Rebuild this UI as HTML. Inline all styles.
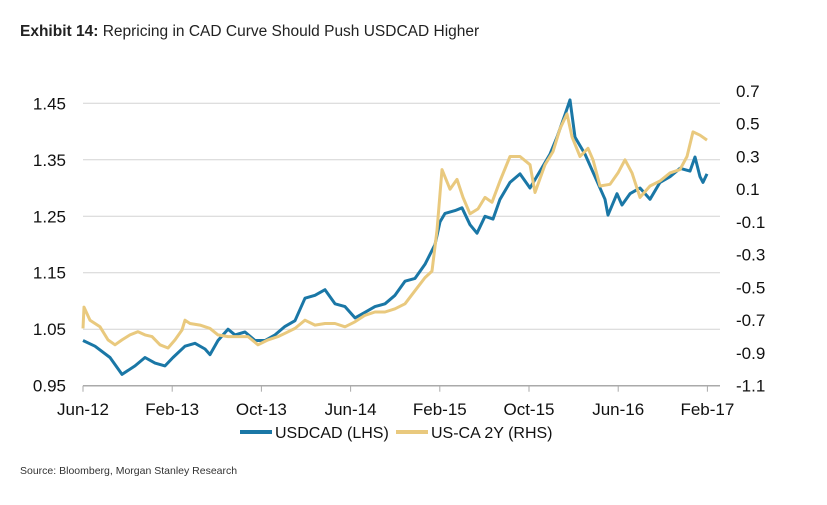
<!DOCTYPE html>
<html><head><meta charset="utf-8"><style>
body{margin:0;background:#fff;width:827px;height:500px;overflow:hidden;font-family:"Liberation Sans",Arial,sans-serif}
</style></head><body>
<svg id="chart" width="827" height="500" xmlns="http://www.w3.org/2000/svg" font-family="Liberation Sans, Arial, sans-serif">
<text x="20" y="36" font-size="15.5" fill="#222"><tspan font-weight="bold">Exhibit 14:</tspan>  Repricing in CAD Curve Should Push USDCAD Higher</text>
<g id="grid"></g><g id="axes"></g><g id="series"></g>
<g>
<line x1="240" y1="432" x2="272" y2="432" stroke="#1a77a6" stroke-width="4"/>
<text x="275" y="438" font-size="16" fill="#111">USDCAD (LHS)</text>
<line x1="396" y1="432" x2="428" y2="432" stroke="#e9c97e" stroke-width="4"/>
<text x="431" y="438" font-size="16" fill="#111">US-CA 2Y (RHS)</text>
</g>
<text x="20" y="474" font-size="10.5" fill="#333">Source: Bloomberg, Morgan Stanley Research</text>
</svg>
<script>
const xTickLabels=["Jun-12","Feb-13","Oct-13","Jun-14","Feb-15","Oct-15","Jun-16","Feb-17"];
const leftTicks=[0.95,1.05,1.15,1.25,1.35,1.45];
const rightTicks=[-1.1,-0.9,-0.7,-0.5,-0.3,-0.1,0.1,0.3,0.5,0.7];
const usdPx=[83,95,110,122,135,145,155,165,173,185,195,205,210,218,228,235,245,255,265,275,285,295,305,315,325,335,345,355,365,375,385,395,405,415,425,435,440,445,455,462,470,477,485,493,500,510,520,530,540,550,557,565,570,575,585,595,605,608,617,622,630,640,650,660,670,680,690,695,700,703,707];
const usdMonths=usdPx.map(x=>(x-83)/11.15);
const usdcad=[1.03,1.02,1.0,0.97,0.985,1.0,0.99,0.985,1.0,1.02,1.025,1.015,1.005,1.03,1.05,1.04,1.045,1.03,1.03,1.04,1.055,1.065,1.105,1.11,1.12,1.095,1.09,1.07,1.08,1.09,1.095,1.11,1.135,1.14,1.165,1.2,1.24,1.255,1.26,1.265,1.235,1.22,1.25,1.245,1.28,1.31,1.325,1.3,1.33,1.36,1.39,1.43,1.456,1.39,1.36,1.32,1.28,1.252,1.29,1.27,1.29,1.3,1.28,1.31,1.32,1.335,1.33,1.355,1.32,1.31,1.325];
const caPx=[83,84,90,100,108,115,122,130,138,145,152,160,168,175,182,185,190,200,210,218,228,238,248,258,268,278,285,295,305,315,325,335,345,355,365,375,385,395,405,415,425,432,437,442,450,457,463,470,478,485,492,500,510,520,530,535,545,553,560,567,572,580,588,593,600,610,618,625,632,640,650,660,670,680,687,693,700,707];
const caMonths=caPx.map(x=>(x-83)/11.15);
const usca2y=[-0.75,-0.62,-0.7,-0.74,-0.82,-0.85,-0.82,-0.79,-0.77,-0.79,-0.8,-0.85,-0.87,-0.82,-0.76,-0.7,-0.72,-0.73,-0.75,-0.79,-0.8,-0.8,-0.8,-0.85,-0.82,-0.8,-0.78,-0.75,-0.7,-0.73,-0.72,-0.72,-0.74,-0.71,-0.67,-0.65,-0.65,-0.63,-0.6,-0.52,-0.44,-0.4,-0.15,0.22,0.1,0.16,0.05,-0.05,-0.02,0.05,0.02,0.15,0.3,0.3,0.25,0.08,0.25,0.33,0.47,0.56,0.42,0.3,0.35,0.28,0.12,0.13,0.2,0.28,0.2,0.05,0.12,0.15,0.2,0.22,0.3,0.45,0.43,0.4];
const NS="http://www.w3.org/2000/svg";
const X0=83,X1=720,YB=385.7,YT=103.3;
const xS=m=>X0+m*11.15;
const yL=v=>YB-(v-0.95)/0.5*(YB-YT);
const yR=v=>YB-(v+1.1)/1.8*294.7;
function mk(tag,attrs,parent){const e=document.createElementNS(NS,tag);for(const k in attrs)e.setAttribute(k,attrs[k]);parent.appendChild(e);return e;}
const grid=document.getElementById('grid'),axes=document.getElementById('axes'),ser=document.getElementById('series');
leftTicks.forEach((v,i)=>{
  if(i>0){const g=mk('line',{x1:X0,x2:X1,y1:yL(v),y2:yL(v),stroke:'#d4d4d4','stroke-width':1},grid);
  
  }
  const t=mk('text',{x:66,y:yL(v)+6,'font-size':17,'text-anchor':'end',fill:'#111'},axes);t.textContent=v.toFixed(2);
  
  
});
rightTicks.forEach(v=>{
  const t=mk('text',{x:736,y:yR(v)+6,'font-size':17,fill:'#111'},axes);t.textContent=v.toFixed(1);
  
  
});
const ax=mk('line',{x1:X0,x2:X1,y1:YB,y2:YB,stroke:'#aaa','stroke-width':1.5},axes);


xTickLabels.forEach((l,i)=>{
  const x=xS(i*8);
  const tk=mk('line',{x1:x,x2:x,y1:YB,y2:YB+6,stroke:'#aaa','stroke-width':1},axes);
  
  
  const t=mk('text',{x:x,y:415,'font-size':17,'text-anchor':'middle',fill:'#111'},axes);t.textContent=l;
  
  
});
function line(ms,vals,yf,col){return ms.map((m,i)=>(i?'L':'M')+xS(m).toFixed(1)+','+yf(vals[i]).toFixed(1)).join('');}
const p1=mk('path',{d:line(usdMonths,usdcad,yL),fill:'none',stroke:'#1a77a6','stroke-width':3,'stroke-linejoin':'round'},ser);


const p2=mk('path',{d:line(caMonths,usca2y,yR),fill:'none',stroke:'#e9c97e','stroke-width':3,'stroke-linejoin':'round'},ser);


</script>
</body></html>
